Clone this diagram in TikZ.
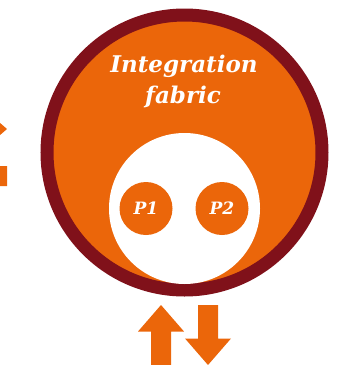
\documentclass[tikz,border=0pt]{standalone}
\usepackage{fontspec}
\usepackage{xcolor}
\setmainfont{DejaVu Serif}
\definecolor{pwcorange}{RGB}{235,102,10}
\definecolor{pwcmaroon}{RGB}{128,17,26}
\tikzset{
  title/.style={text=white, font=\bfseries\itshape\fontsize{23}{27}\selectfont, anchor=base},
  part/.style={circle, fill=pwcorange, inner sep=0pt, minimum size=53, text=white,
    font=\bfseries\itshape\fontsize{17}{20}\selectfont},
  fatarrow/.style={fill=pwcorange}
}
\begin{document}
\begin{tikzpicture}[x=1pt,y=-1pt]
  \useasboundingbox (0,0) rectangle (338,365);
  \clip (0,0) rectangle (338,365);
  % outer ring
  \node[circle, draw=pwcmaroon, line width=13, fill=pwcorange, inner sep=0pt, minimum size=275] (fabric) at (184.5,152.5) {};
  \node[title] (fabrictop) at (184,72) {Integration};
  \node[title] (fabricbot) at (183,103) {fabric};
  % inner white disc with the two parts
  \node[circle, fill=white, inner sep=0pt, minimum size=151] (core) at (184.5,208.5) {};
  \node[part] (p1) at (146,208.5) {P1};
  \node[part] (p2) at (222,208.5) {P2};
  % arrows: tip, rotation
  \foreach \x/\y/\a in {161/305/0, 208/365/180, 7/129/-90, -53/176/90}
    \fill[fatarrow, shift={(\x,\y)}, rotate=\a] (0,0) -- (23,26.5) -- (10,26.5) -- (10,60)
      -- (-10,60) -- (-10,26.5) -- (-23,26.5) -- cycle;
\end{tikzpicture}
\end{document}
